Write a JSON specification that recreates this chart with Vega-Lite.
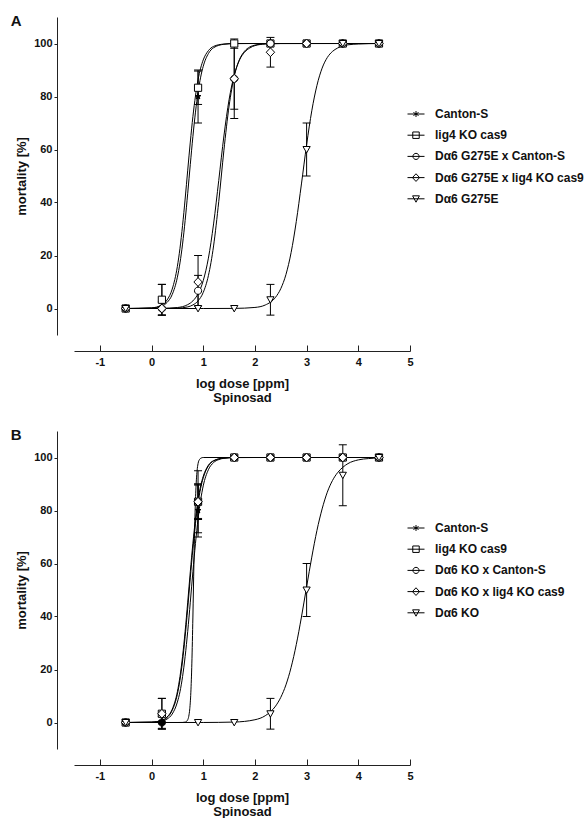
{
  "$schema": "https://vega.github.io/schema/vega-lite/v6.json",
  "background": "white",
  "padding": {"left": 10, "top": 14, "right": 5, "bottom": 5},
  "spacing": 24,
  "config": {
    "view": {"stroke": null},
    "font": "Liberation Sans",
    "axis": {"domainColor": "#222", "tickColor": "#222", "labelColor": "#111", "titleColor": "#111", "labelFont": "Liberation Sans", "titleFont": "Liberation Sans", "labelFontWeight": "bold", "labelFontSize": 11, "titleFontSize": 13, "titleFontWeight": "bold", "grid": false, "labelFlush": false, "labelOverlap": false},
    "title": {"font": "Liberation Sans", "fontSize": 15, "fontWeight": "bold", "color": "#111"}
  },
  "datasets": {
    "pts": [
      {"p":"A","s":"Canton-S","x":-0.5,"y":0,"lo":null,"hi":null},
      {"p":"A","s":"Canton-S","x":0.2,"y":3.3,"lo":-2.5,"hi":9.1},
      {"p":"A","s":"Canton-S","x":0.9,"y":80,"lo":70,"hi":90},
      {"p":"A","s":"Canton-S","x":1.6,"y":100,"lo":null,"hi":null},
      {"p":"A","s":"Canton-S","x":2.3,"y":100,"lo":null,"hi":null},
      {"p":"A","s":"Canton-S","x":3.0,"y":100,"lo":null,"hi":null},
      {"p":"A","s":"Canton-S","x":3.7,"y":100,"lo":null,"hi":null},
      {"p":"A","s":"Canton-S","x":4.4,"y":100,"lo":null,"hi":null},
      {"p":"A","s":"lig4 KO cas9","x":-0.5,"y":0,"lo":null,"hi":null},
      {"p":"A","s":"lig4 KO cas9","x":0.2,"y":3.3,"lo":-2.5,"hi":9.1},
      {"p":"A","s":"lig4 KO cas9","x":0.9,"y":83.3,"lo":77,"hi":89.6},
      {"p":"A","s":"lig4 KO cas9","x":1.6,"y":100,"lo":null,"hi":null},
      {"p":"A","s":"lig4 KO cas9","x":2.3,"y":100,"lo":null,"hi":null},
      {"p":"A","s":"lig4 KO cas9","x":3.0,"y":100,"lo":null,"hi":null},
      {"p":"A","s":"lig4 KO cas9","x":3.7,"y":100,"lo":null,"hi":null},
      {"p":"A","s":"lig4 KO cas9","x":4.4,"y":100,"lo":null,"hi":null},
      {"p":"A","s":"Dα6 G275E x Canton-S","x":-0.5,"y":0,"lo":null,"hi":null},
      {"p":"A","s":"Dα6 G275E x Canton-S","x":0.2,"y":0,"lo":-2.5,"hi":2.5},
      {"p":"A","s":"Dα6 G275E x Canton-S","x":0.9,"y":6.7,"lo":0.9,"hi":12.5},
      {"p":"A","s":"Dα6 G275E x Canton-S","x":1.6,"y":86.7,"lo":71.7,"hi":101.7},
      {"p":"A","s":"Dα6 G275E x Canton-S","x":2.3,"y":100,"lo":null,"hi":null},
      {"p":"A","s":"Dα6 G275E x Canton-S","x":3.0,"y":100,"lo":null,"hi":null},
      {"p":"A","s":"Dα6 G275E x Canton-S","x":3.7,"y":100,"lo":null,"hi":null},
      {"p":"A","s":"Dα6 G275E x Canton-S","x":4.4,"y":100,"lo":null,"hi":null},
      {"p":"A","s":"Dα6 G275E x lig4 KO cas9","x":-0.5,"y":0,"lo":null,"hi":null},
      {"p":"A","s":"Dα6 G275E x lig4 KO cas9","x":0.2,"y":0,"lo":null,"hi":null},
      {"p":"A","s":"Dα6 G275E x lig4 KO cas9","x":0.9,"y":10,"lo":0,"hi":20},
      {"p":"A","s":"Dα6 G275E x lig4 KO cas9","x":1.6,"y":86.7,"lo":75.2,"hi":98.2},
      {"p":"A","s":"Dα6 G275E x lig4 KO cas9","x":2.3,"y":96.7,"lo":91.1,"hi":102.3},
      {"p":"A","s":"Dα6 G275E x lig4 KO cas9","x":3.0,"y":100,"lo":null,"hi":null},
      {"p":"A","s":"Dα6 G275E x lig4 KO cas9","x":3.7,"y":100,"lo":null,"hi":null},
      {"p":"A","s":"Dα6 G275E x lig4 KO cas9","x":4.4,"y":100,"lo":null,"hi":null},
      {"p":"A","s":"Dα6 G275E","x":-0.5,"y":0,"lo":null,"hi":null},
      {"p":"A","s":"Dα6 G275E","x":0.9,"y":0,"lo":null,"hi":null},
      {"p":"A","s":"Dα6 G275E","x":1.6,"y":0,"lo":null,"hi":null},
      {"p":"A","s":"Dα6 G275E","x":2.3,"y":3.3,"lo":-2.5,"hi":9.1},
      {"p":"A","s":"Dα6 G275E","x":3.0,"y":60,"lo":50,"hi":70},
      {"p":"A","s":"Dα6 G275E","x":3.7,"y":100,"lo":null,"hi":null},
      {"p":"A","s":"Dα6 G275E","x":4.4,"y":100,"lo":null,"hi":null},
      {"p":"B","s":"Canton-S","x":-0.5,"y":0,"lo":null,"hi":null},
      {"p":"B","s":"Canton-S","x":0.2,"y":3.3,"lo":-2.5,"hi":9.1},
      {"p":"B","s":"Canton-S","x":0.9,"y":80,"lo":70,"hi":90},
      {"p":"B","s":"Canton-S","x":1.6,"y":100,"lo":null,"hi":null},
      {"p":"B","s":"Canton-S","x":2.3,"y":100,"lo":null,"hi":null},
      {"p":"B","s":"Canton-S","x":3.0,"y":100,"lo":null,"hi":null},
      {"p":"B","s":"Canton-S","x":3.7,"y":100,"lo":null,"hi":null},
      {"p":"B","s":"Canton-S","x":4.4,"y":100,"lo":null,"hi":null},
      {"p":"B","s":"lig4 KO cas9","x":-0.5,"y":0,"lo":null,"hi":null},
      {"p":"B","s":"lig4 KO cas9","x":0.2,"y":3.3,"lo":-2.5,"hi":9.1},
      {"p":"B","s":"lig4 KO cas9","x":0.9,"y":83.3,"lo":77,"hi":89.6},
      {"p":"B","s":"lig4 KO cas9","x":1.6,"y":100,"lo":null,"hi":null},
      {"p":"B","s":"lig4 KO cas9","x":2.3,"y":100,"lo":null,"hi":null},
      {"p":"B","s":"lig4 KO cas9","x":3.0,"y":100,"lo":null,"hi":null},
      {"p":"B","s":"lig4 KO cas9","x":3.7,"y":100,"lo":null,"hi":null},
      {"p":"B","s":"lig4 KO cas9","x":4.4,"y":100,"lo":null,"hi":null},
      {"p":"B","s":"Dα6 KO x Canton-S","x":-0.5,"y":0,"lo":null,"hi":null},
      {"p":"B","s":"Dα6 KO x Canton-S","x":0.2,"y":0,"lo":-2.2,"hi":2.2},
      {"p":"B","s":"Dα6 KO x Canton-S","x":0.9,"y":83.3,"lo":71.6,"hi":95},
      {"p":"B","s":"Dα6 KO x Canton-S","x":1.6,"y":100,"lo":null,"hi":null},
      {"p":"B","s":"Dα6 KO x Canton-S","x":2.3,"y":100,"lo":null,"hi":null},
      {"p":"B","s":"Dα6 KO x Canton-S","x":3.0,"y":100,"lo":null,"hi":null},
      {"p":"B","s":"Dα6 KO x Canton-S","x":3.7,"y":100,"lo":null,"hi":null},
      {"p":"B","s":"Dα6 KO x Canton-S","x":4.4,"y":100,"lo":null,"hi":null},
      {"p":"B","s":"Dα6 KO x lig4 KO cas9","x":-0.5,"y":0,"lo":null,"hi":null},
      {"p":"B","s":"Dα6 KO x lig4 KO cas9","x":0.2,"y":3.3,"lo":null,"hi":null},
      {"p":"B","s":"Dα6 KO x lig4 KO cas9","x":0.9,"y":83.3,"lo":76.6,"hi":90},
      {"p":"B","s":"Dα6 KO x lig4 KO cas9","x":1.6,"y":100,"lo":null,"hi":null},
      {"p":"B","s":"Dα6 KO x lig4 KO cas9","x":2.3,"y":100,"lo":null,"hi":null},
      {"p":"B","s":"Dα6 KO x lig4 KO cas9","x":3.0,"y":100,"lo":null,"hi":null},
      {"p":"B","s":"Dα6 KO x lig4 KO cas9","x":3.7,"y":100,"lo":null,"hi":null},
      {"p":"B","s":"Dα6 KO x lig4 KO cas9","x":4.4,"y":100,"lo":null,"hi":null},
      {"p":"B","s":"Dα6 KO","x":-0.5,"y":0,"lo":null,"hi":null},
      {"p":"B","s":"Dα6 KO","x":0.9,"y":0,"lo":null,"hi":null},
      {"p":"B","s":"Dα6 KO","x":1.6,"y":0,"lo":null,"hi":null},
      {"p":"B","s":"Dα6 KO","x":2.3,"y":3.3,"lo":-2.5,"hi":9.1},
      {"p":"B","s":"Dα6 KO","x":3.0,"y":50,"lo":40,"hi":60},
      {"p":"B","s":"Dα6 KO","x":3.7,"y":93.3,"lo":81.8,"hi":104.8},
      {"p":"B","s":"Dα6 KO","x":4.4,"y":100,"lo":null,"hi":null}
    ],
    "crv": [
      {"p":"A","s":"Canton-S","x":-0.5,"y":0},{"p":"A","s":"Canton-S","x":0,"y":0.17},{"p":"A","s":"Canton-S","x":0.2,"y":0.96},{"p":"A","s":"Canton-S","x":0.3,"y":2.27},{"p":"A","s":"Canton-S","x":0.4,"y":5.28},{"p":"A","s":"Canton-S","x":0.5,"y":11.8},{"p":"A","s":"Canton-S","x":0.55,"y":17.2},{"p":"A","s":"Canton-S","x":0.6,"y":24.3},{"p":"A","s":"Canton-S","x":0.65,"y":33.2},{"p":"A","s":"Canton-S","x":0.7,"y":43.5},{"p":"A","s":"Canton-S","x":0.75,"y":54.4},{"p":"A","s":"Canton-S","x":0.8,"y":64.9},{"p":"A","s":"Canton-S","x":0.85,"y":74.1},{"p":"A","s":"Canton-S","x":0.9,"y":81.6},{"p":"A","s":"Canton-S","x":0.95,"y":87.3},{"p":"A","s":"Canton-S","x":1.0,"y":91.4},{"p":"A","s":"Canton-S","x":1.1,"y":96.2},{"p":"A","s":"Canton-S","x":1.2,"y":98.4},{"p":"A","s":"Canton-S","x":1.4,"y":99.7},{"p":"A","s":"Canton-S","x":1.6,"y":99.95},{"p":"A","s":"Canton-S","x":2.0,"y":100},{"p":"A","s":"Canton-S","x":4.4,"y":100},
      {"p":"A","s":"lig4 KO cas9","x":-0.5,"y":0},{"p":"A","s":"lig4 KO cas9","x":0,"y":0.24},{"p":"A","s":"lig4 KO cas9","x":0.2,"y":1.36},{"p":"A","s":"lig4 KO cas9","x":0.3,"y":3.2},{"p":"A","s":"lig4 KO cas9","x":0.4,"y":7.33},{"p":"A","s":"lig4 KO cas9","x":0.5,"y":15.9},{"p":"A","s":"lig4 KO cas9","x":0.55,"y":22.7},{"p":"A","s":"lig4 KO cas9","x":0.6,"y":31.3},{"p":"A","s":"lig4 KO cas9","x":0.65,"y":41.3},{"p":"A","s":"lig4 KO cas9","x":0.7,"y":52.2},{"p":"A","s":"lig4 KO cas9","x":0.75,"y":62.8},{"p":"A","s":"lig4 KO cas9","x":0.8,"y":72.4},{"p":"A","s":"lig4 KO cas9","x":0.85,"y":80.2},{"p":"A","s":"lig4 KO cas9","x":0.9,"y":86.3},{"p":"A","s":"lig4 KO cas9","x":0.95,"y":90.7},{"p":"A","s":"lig4 KO cas9","x":1.0,"y":93.8},{"p":"A","s":"lig4 KO cas9","x":1.1,"y":97.3},{"p":"A","s":"lig4 KO cas9","x":1.2,"y":98.9},{"p":"A","s":"lig4 KO cas9","x":1.4,"y":99.8},{"p":"A","s":"lig4 KO cas9","x":1.6,"y":100},{"p":"A","s":"lig4 KO cas9","x":2.0,"y":100},{"p":"A","s":"lig4 KO cas9","x":4.4,"y":100},
      {"p":"A","s":"Dα6 G275E x Canton-S","x":-0.5,"y":0},{"p":"A","s":"Dα6 G275E x Canton-S","x":0.2,"y":0.01},{"p":"A","s":"Dα6 G275E x Canton-S","x":0.5,"y":0.13},{"p":"A","s":"Dα6 G275E x Canton-S","x":0.7,"y":0.61},{"p":"A","s":"Dα6 G275E x Canton-S","x":0.8,"y":1.33},{"p":"A","s":"Dα6 G275E x Canton-S","x":0.9,"y":2.87},{"p":"A","s":"Dα6 G275E x Canton-S","x":1.0,"y":6.06},{"p":"A","s":"Dα6 G275E x Canton-S","x":1.1,"y":12.4},{"p":"A","s":"Dα6 G275E x Canton-S","x":1.2,"y":23.6},{"p":"A","s":"Dα6 G275E x Canton-S","x":1.3,"y":40.3},{"p":"A","s":"Dα6 G275E x Canton-S","x":1.4,"y":59.7},{"p":"A","s":"Dα6 G275E x Canton-S","x":1.5,"y":76.4},{"p":"A","s":"Dα6 G275E x Canton-S","x":1.6,"y":87.6},{"p":"A","s":"Dα6 G275E x Canton-S","x":1.7,"y":93.9},{"p":"A","s":"Dα6 G275E x Canton-S","x":1.8,"y":97.1},{"p":"A","s":"Dα6 G275E x Canton-S","x":1.9,"y":98.7},{"p":"A","s":"Dα6 G275E x Canton-S","x":2.0,"y":99.4},{"p":"A","s":"Dα6 G275E x Canton-S","x":2.2,"y":99.9},{"p":"A","s":"Dα6 G275E x Canton-S","x":2.5,"y":100},{"p":"A","s":"Dα6 G275E x Canton-S","x":4.4,"y":100},
      {"p":"A","s":"Dα6 G275E x lig4 KO cas9","x":-0.5,"y":0},{"p":"A","s":"Dα6 G275E x lig4 KO cas9","x":0.2,"y":0.05},{"p":"A","s":"Dα6 G275E x lig4 KO cas9","x":0.5,"y":0.37},{"p":"A","s":"Dα6 G275E x lig4 KO cas9","x":0.7,"y":1.46},{"p":"A","s":"Dα6 G275E x lig4 KO cas9","x":0.8,"y":2.87},{"p":"A","s":"Dα6 G275E x lig4 KO cas9","x":0.9,"y":5.56},{"p":"A","s":"Dα6 G275E x lig4 KO cas9","x":1.0,"y":10.5},{"p":"A","s":"Dα6 G275E x lig4 KO cas9","x":1.1,"y":19.0},{"p":"A","s":"Dα6 G275E x lig4 KO cas9","x":1.2,"y":31.9},{"p":"A","s":"Dα6 G275E x lig4 KO cas9","x":1.3,"y":48.3},{"p":"A","s":"Dα6 G275E x lig4 KO cas9","x":1.4,"y":65.1},{"p":"A","s":"Dα6 G275E x lig4 KO cas9","x":1.5,"y":78.8},{"p":"A","s":"Dα6 G275E x lig4 KO cas9","x":1.6,"y":88.1},{"p":"A","s":"Dα6 G275E x lig4 KO cas9","x":1.7,"y":93.7},{"p":"A","s":"Dα6 G275E x lig4 KO cas9","x":1.8,"y":96.7},{"p":"A","s":"Dα6 G275E x lig4 KO cas9","x":1.9,"y":98.3},{"p":"A","s":"Dα6 G275E x lig4 KO cas9","x":2.0,"y":99.2},{"p":"A","s":"Dα6 G275E x lig4 KO cas9","x":2.2,"y":99.8},{"p":"A","s":"Dα6 G275E x lig4 KO cas9","x":2.5,"y":99.97},{"p":"A","s":"Dα6 G275E x lig4 KO cas9","x":4.4,"y":100},
      {"p":"A","s":"Dα6 G275E","x":-0.5,"y":0},{"p":"A","s":"Dα6 G275E","x":1.0,"y":0},{"p":"A","s":"Dα6 G275E","x":1.6,"y":0.04},{"p":"A","s":"Dα6 G275E","x":2.0,"y":0.4},{"p":"A","s":"Dα6 G275E","x":2.2,"y":1.32},{"p":"A","s":"Dα6 G275E","x":2.4,"y":4.26},{"p":"A","s":"Dα6 G275E","x":2.5,"y":7.48},{"p":"A","s":"Dα6 G275E","x":2.6,"y":12.8},{"p":"A","s":"Dα6 G275E","x":2.7,"y":21.1},{"p":"A","s":"Dα6 G275E","x":2.8,"y":32.8},{"p":"A","s":"Dα6 G275E","x":2.9,"y":47.0},{"p":"A","s":"Dα6 G275E","x":3.0,"y":61.8},{"p":"A","s":"Dα6 G275E","x":3.1,"y":74.6},{"p":"A","s":"Dα6 G275E","x":3.2,"y":84.2},{"p":"A","s":"Dα6 G275E","x":3.3,"y":90.7},{"p":"A","s":"Dα6 G275E","x":3.4,"y":94.7},{"p":"A","s":"Dα6 G275E","x":3.5,"y":97.0},{"p":"A","s":"Dα6 G275E","x":3.6,"y":98.3},{"p":"A","s":"Dα6 G275E","x":3.8,"y":99.5},{"p":"A","s":"Dα6 G275E","x":4.0,"y":99.8},{"p":"A","s":"Dα6 G275E","x":4.4,"y":100},
      {"p":"B","s":"Canton-S","x":-0.5,"y":0},{"p":"B","s":"Canton-S","x":0,"y":0.08},{"p":"B","s":"Canton-S","x":0.2,"y":0.52},{"p":"B","s":"Canton-S","x":0.3,"y":1.3},{"p":"B","s":"Canton-S","x":0.4,"y":3.2},{"p":"B","s":"Canton-S","x":0.5,"y":7.7},{"p":"B","s":"Canton-S","x":0.55,"y":11.6},{"p":"B","s":"Canton-S","x":0.6,"y":17.3},{"p":"B","s":"Canton-S","x":0.65,"y":24.9},{"p":"B","s":"Canton-S","x":0.7,"y":34.4},{"p":"B","s":"Canton-S","x":0.75,"y":45.4},{"p":"B","s":"Canton-S","x":0.8,"y":56.9},{"p":"B","s":"Canton-S","x":0.85,"y":67.6},{"p":"B","s":"Canton-S","x":0.9,"y":76.8},{"p":"B","s":"Canton-S","x":0.95,"y":84.0},{"p":"B","s":"Canton-S","x":1.0,"y":89.3},{"p":"B","s":"Canton-S","x":1.1,"y":95.4},{"p":"B","s":"Canton-S","x":1.2,"y":98.1},{"p":"B","s":"Canton-S","x":1.3,"y":99.2},{"p":"B","s":"Canton-S","x":1.4,"y":99.7},{"p":"B","s":"Canton-S","x":1.6,"y":99.96},{"p":"B","s":"Canton-S","x":2.0,"y":100},{"p":"B","s":"Canton-S","x":4.4,"y":100},
      {"p":"B","s":"lig4 KO cas9","x":-0.5,"y":0},{"p":"B","s":"lig4 KO cas9","x":0,"y":0.13},{"p":"B","s":"lig4 KO cas9","x":0.2,"y":0.83},{"p":"B","s":"lig4 KO cas9","x":0.3,"y":2.05},{"p":"B","s":"lig4 KO cas9","x":0.4,"y":4.99},{"p":"B","s":"lig4 KO cas9","x":0.5,"y":11.6},{"p":"B","s":"lig4 KO cas9","x":0.55,"y":17.3},{"p":"B","s":"lig4 KO cas9","x":0.6,"y":24.9},{"p":"B","s":"lig4 KO cas9","x":0.65,"y":34.4},{"p":"B","s":"lig4 KO cas9","x":0.7,"y":45.4},{"p":"B","s":"lig4 KO cas9","x":0.75,"y":56.9},{"p":"B","s":"lig4 KO cas9","x":0.8,"y":67.6},{"p":"B","s":"lig4 KO cas9","x":0.85,"y":76.8},{"p":"B","s":"lig4 KO cas9","x":0.9,"y":84.0},{"p":"B","s":"lig4 KO cas9","x":0.95,"y":89.3},{"p":"B","s":"lig4 KO cas9","x":1.0,"y":92.9},{"p":"B","s":"lig4 KO cas9","x":1.1,"y":97.1},{"p":"B","s":"lig4 KO cas9","x":1.2,"y":98.8},{"p":"B","s":"lig4 KO cas9","x":1.4,"y":99.8},{"p":"B","s":"lig4 KO cas9","x":1.6,"y":100},{"p":"B","s":"lig4 KO cas9","x":2.0,"y":100},{"p":"B","s":"lig4 KO cas9","x":4.4,"y":100},
      {"p":"B","s":"Dα6 KO x Canton-S","x":-0.5,"y":0},{"p":"B","s":"Dα6 KO x Canton-S","x":0.2,"y":0},{"p":"B","s":"Dα6 KO x Canton-S","x":0.5,"y":0},{"p":"B","s":"Dα6 KO x Canton-S","x":0.6,"y":0.02},{"p":"B","s":"Dα6 KO x Canton-S","x":0.65,"y":0.13},{"p":"B","s":"Dα6 KO x Canton-S","x":0.7,"y":1.04},{"p":"B","s":"Dα6 KO x Canton-S","x":0.72,"y":2.34},{"p":"B","s":"Dα6 KO x Canton-S","x":0.74,"y":5.2},{"p":"B","s":"Dα6 KO x Canton-S","x":0.76,"y":11.2},{"p":"B","s":"Dα6 KO x Canton-S","x":0.78,"y":22.4},{"p":"B","s":"Dα6 KO x Canton-S","x":0.8,"y":39.8},{"p":"B","s":"Dα6 KO x Canton-S","x":0.82,"y":60.2},{"p":"B","s":"Dα6 KO x Canton-S","x":0.84,"y":77.6},{"p":"B","s":"Dα6 KO x Canton-S","x":0.86,"y":88.8},{"p":"B","s":"Dα6 KO x Canton-S","x":0.88,"y":94.8},{"p":"B","s":"Dα6 KO x Canton-S","x":0.9,"y":97.7},{"p":"B","s":"Dα6 KO x Canton-S","x":0.93,"y":99.3},{"p":"B","s":"Dα6 KO x Canton-S","x":0.96,"y":99.8},{"p":"B","s":"Dα6 KO x Canton-S","x":1.0,"y":100},{"p":"B","s":"Dα6 KO x Canton-S","x":1.6,"y":100},{"p":"B","s":"Dα6 KO x Canton-S","x":4.4,"y":100},
      {"p":"B","s":"Dα6 KO x lig4 KO cas9","x":-0.5,"y":0},{"p":"B","s":"Dα6 KO x lig4 KO cas9","x":0,"y":0.12},{"p":"B","s":"Dα6 KO x lig4 KO cas9","x":0.2,"y":0.75},{"p":"B","s":"Dα6 KO x lig4 KO cas9","x":0.3,"y":1.87},{"p":"B","s":"Dα6 KO x lig4 KO cas9","x":0.4,"y":4.57},{"p":"B","s":"Dα6 KO x lig4 KO cas9","x":0.5,"y":10.7},{"p":"B","s":"Dα6 KO x lig4 KO cas9","x":0.55,"y":16.0},{"p":"B","s":"Dα6 KO x lig4 KO cas9","x":0.6,"y":23.2},{"p":"B","s":"Dα6 KO x lig4 KO cas9","x":0.65,"y":32.4},{"p":"B","s":"Dα6 KO x lig4 KO cas9","x":0.7,"y":43.1},{"p":"B","s":"Dα6 KO x lig4 KO cas9","x":0.75,"y":54.6},{"p":"B","s":"Dα6 KO x lig4 KO cas9","x":0.8,"y":65.6},{"p":"B","s":"Dα6 KO x lig4 KO cas9","x":0.85,"y":75.1},{"p":"B","s":"Dα6 KO x lig4 KO cas9","x":0.9,"y":82.7},{"p":"B","s":"Dα6 KO x lig4 KO cas9","x":0.95,"y":88.4},{"p":"B","s":"Dα6 KO x lig4 KO cas9","x":1.0,"y":92.3},{"p":"B","s":"Dα6 KO x lig4 KO cas9","x":1.1,"y":96.8},{"p":"B","s":"Dα6 KO x lig4 KO cas9","x":1.2,"y":98.7},{"p":"B","s":"Dα6 KO x lig4 KO cas9","x":1.4,"y":99.8},{"p":"B","s":"Dα6 KO x lig4 KO cas9","x":1.6,"y":100},{"p":"B","s":"Dα6 KO x lig4 KO cas9","x":2.0,"y":100},{"p":"B","s":"Dα6 KO x lig4 KO cas9","x":4.4,"y":100},
      {"p":"B","s":"Dα6 KO","x":-0.5,"y":0},{"p":"B","s":"Dα6 KO","x":1.0,"y":0.01},{"p":"B","s":"Dα6 KO","x":1.6,"y":0.17},{"p":"B","s":"Dα6 KO","x":2.0,"y":1.04},{"p":"B","s":"Dα6 KO","x":2.2,"y":2.56},{"p":"B","s":"Dα6 KO","x":2.4,"y":6.2},{"p":"B","s":"Dα6 KO","x":2.5,"y":9.48},{"p":"B","s":"Dα6 KO","x":2.6,"y":14.2},{"p":"B","s":"Dα6 KO","x":2.7,"y":20.8},{"p":"B","s":"Dα6 KO","x":2.8,"y":29.4},{"p":"B","s":"Dα6 KO","x":2.9,"y":39.8},{"p":"B","s":"Dα6 KO","x":3.0,"y":51.2},{"p":"B","s":"Dα6 KO","x":3.1,"y":62.4},{"p":"B","s":"Dα6 KO","x":3.2,"y":72.5},{"p":"B","s":"Dα6 KO","x":3.3,"y":80.6},{"p":"B","s":"Dα6 KO","x":3.4,"y":86.9},{"p":"B","s":"Dα6 KO","x":3.5,"y":91.3},{"p":"B","s":"Dα6 KO","x":3.6,"y":94.3},{"p":"B","s":"Dα6 KO","x":3.7,"y":96.3},{"p":"B","s":"Dα6 KO","x":3.8,"y":97.7},{"p":"B","s":"Dα6 KO","x":4.0,"y":99.1},{"p":"B","s":"Dα6 KO","x":4.2,"y":99.6},{"p":"B","s":"Dα6 KO","x":4.4,"y":99.8}
    ]
  },
  "vconcat": [
    {
      "width": 336, "height": 318,
      "title": {"text": "A", "anchor": "start", "frame": "bounds", "baseline": "top", "offset": 0, "dy": 12, "dx": -5},
      "layer": [
        {"data": {"name": "crv"}, "transform": [{"filter": "datum.p === 'A'"}],
         "mark": {"type": "line", "interpolate": "monotone", "color": "black", "strokeWidth": 1},
         "encoding": {
           "x": {"field": "x", "type": "quantitative", "scale": {"domain": [-1.5, 5], "nice": false, "zero": false},
                 "axis": {"title": ["log dose [ppm]", "Spinosad"], "values": [-1,-0.5,0,0.5,1,1.5,2,2.5,3,3.5,4,4.5,5], "offset": 16, "tickSize": -6, "tickDash": {"condition": {"test": "datum.value % 1 !== 0", "value": [3, 20]}, "value": []}, "labelExpr": "datum.value % 1 === 0 ? (datum.value < 0 ? '-' + abs(datum.value) : '' + datum.value) : ''", "labelPadding": 11, "titlePadding": 10, "titleLineHeight": 14}},
           "y": {"field": "y", "type": "quantitative", "scale": {"domain": [-10, 110], "nice": false, "zero": false},
                 "axis": {"title": "mortality [%]", "values": [0,20,40,60,80,100], "offset": 17, "tickSize": 3, "labelPadding": 2, "titlePadding": 5}},
           "detail": {"field": "s"}
         }},
        {"data": {"name": "pts"}, "transform": [{"filter": "datum.p === 'A' && datum.lo != null"}],
         "mark": {"type": "rule", "color": "black", "strokeWidth": 1},
         "encoding": {"x": {"field": "x", "type": "quantitative"}, "y": {"field": "lo", "type": "quantitative"}, "y2": {"field": "hi"}}},
        {"data": {"name": "pts"}, "transform": [{"filter": "datum.p === 'A' && datum.lo != null"}],
         "mark": {"type": "tick", "orient": "horizontal", "size": 8, "thickness": 1, "color": "black", "opacity": 1},
         "encoding": {"x": {"field": "x", "type": "quantitative"}, "y": {"field": "lo", "type": "quantitative"}}},
        {"data": {"name": "pts"}, "transform": [{"filter": "datum.p === 'A' && datum.lo != null"}],
         "mark": {"type": "tick", "orient": "horizontal", "size": 8, "thickness": 1, "color": "black", "opacity": 1},
         "encoding": {"x": {"field": "x", "type": "quantitative"}, "y": {"field": "hi", "type": "quantitative"}}},
        {"data": {"name": "pts"}, "transform": [{"filter": "datum.p === 'A'"}],
         "mark": {"type": "point", "filled": true, "stroke": "black", "strokeWidth": 1, "opacity": 1, "size": 64},
         "encoding": {
           "x": {"field": "x", "type": "quantitative"}, "y": {"field": "y", "type": "quantitative"},
           "shape": {"field": "s", "type": "nominal", "legend": null, "scale": {"domain": ["Canton-S", "lig4 KO cas9", "Dα6 G275E x Canton-S", "Dα6 G275E x lig4 KO cas9", "Dα6 G275E"], "range": ["M0,-0.75L0.176,-0.243L0.713,-0.232L0.285,0.093L0.441,0.607L0,0.3L-0.441,0.607L-0.285,0.093L-0.713,-0.232L-0.176,-0.243Z", "M-0.9,-0.9H0.9V0.9H-0.9Z", "M-0.9,0A0.9,0.9,0,1,1,0.9,0A0.9,0.9,0,1,1,-0.9,0Z", "M0,-1.1L1.05,0L0,1.1L-1.05,0Z", "M-0.9,-0.75H0.9L0,0.85Z"]}},
           "fill": {"field": "s", "type": "nominal", "legend": null, "scale": {"domain": ["Canton-S", "lig4 KO cas9", "Dα6 G275E x Canton-S", "Dα6 G275E x lig4 KO cas9", "Dα6 G275E"], "range": ["black", "white", "white", "white", "white"]}}
         }},
        {"data": {"name": "pts"}, "transform": [{"filter": "datum.p === 'A' && datum.x > 100"}],
         "mark": {"type": "point", "filled": false, "stroke": "black"},
         "encoding": {
           "x": {"field": "x", "type": "quantitative"}, "y": {"field": "y", "type": "quantitative"},
           "shape": {"field": "s", "type": "nominal",
             "scale": {"domain": ["Canton-S", "lig4 KO cas9", "Dα6 G275E x Canton-S", "Dα6 G275E x lig4 KO cas9", "Dα6 G275E"], "range": ["M-1,0H1M0,-0.35V0.35M-0.3,-0.18L0.3,0.18M-0.3,0.18L0.3,-0.18", "M-1,0H1M-0.38,-0.38H0.38V0.38H-0.38Z", "M-1,0H1M-0.36,0A0.36,0.36,0,1,1,0.36,0A0.36,0.36,0,1,1,-0.36,0Z", "M-1,0H1M0,-0.45L0.42,0L0,0.45L-0.42,0Z", "M-1,0H1M-0.4,-0.35H0.4L0,0.4Z"]},
             "legend": {"title": null, "orient": "none", "legendX": 333, "legendY": 88, "symbolSize": 289, "symbolStrokeWidth": 1, "symbolStrokeColor": "black", "symbolFillColor": "white", "symbolOpacity": 1, "labelFont": "Liberation Sans", "labelFontSize": 12, "labelFontWeight": "bold", "labelColor": "#111", "labelOffset": 10, "rowPadding": 6.2, "labelLimit": 300}}
         }}
      ],
      "resolve": {"scale": {"shape": "independent"}}
    },
    {
      "width": 336, "height": 318,
      "title": {"text": "B", "anchor": "start", "frame": "bounds", "baseline": "top", "offset": 0, "dy": 12, "dx": -5},
      "layer": [
        {"data": {"name": "crv"}, "transform": [{"filter": "datum.p === 'B'"}],
         "mark": {"type": "line", "interpolate": "monotone", "color": "black", "strokeWidth": 1},
         "encoding": {
           "x": {"field": "x", "type": "quantitative", "scale": {"domain": [-1.5, 5], "nice": false, "zero": false},
                 "axis": {"title": ["log dose [ppm]", "Spinosad"], "values": [-1,-0.5,0,0.5,1,1.5,2,2.5,3,3.5,4,4.5,5], "offset": 16, "tickSize": -6, "tickDash": {"condition": {"test": "datum.value % 1 !== 0", "value": [3, 20]}, "value": []}, "labelExpr": "datum.value % 1 === 0 ? (datum.value < 0 ? '-' + abs(datum.value) : '' + datum.value) : ''", "labelPadding": 11, "titlePadding": 10, "titleLineHeight": 14}},
           "y": {"field": "y", "type": "quantitative", "scale": {"domain": [-10, 110], "nice": false, "zero": false},
                 "axis": {"title": "mortality [%]", "values": [0,20,40,60,80,100], "offset": 17, "tickSize": 3, "labelPadding": 2, "titlePadding": 5}},
           "detail": {"field": "s"}
         }},
        {"data": {"name": "pts"}, "transform": [{"filter": "datum.p === 'B' && datum.lo != null"}],
         "mark": {"type": "rule", "color": "black", "strokeWidth": 1},
         "encoding": {"x": {"field": "x", "type": "quantitative"}, "y": {"field": "lo", "type": "quantitative"}, "y2": {"field": "hi"}}},
        {"data": {"name": "pts"}, "transform": [{"filter": "datum.p === 'B' && datum.lo != null"}],
         "mark": {"type": "tick", "orient": "horizontal", "size": 8, "thickness": 1, "color": "black", "opacity": 1},
         "encoding": {"x": {"field": "x", "type": "quantitative"}, "y": {"field": "lo", "type": "quantitative"}}},
        {"data": {"name": "pts"}, "transform": [{"filter": "datum.p === 'B' && datum.lo != null"}],
         "mark": {"type": "tick", "orient": "horizontal", "size": 8, "thickness": 1, "color": "black", "opacity": 1},
         "encoding": {"x": {"field": "x", "type": "quantitative"}, "y": {"field": "hi", "type": "quantitative"}}},
        {"data": {"name": "pts"}, "transform": [{"filter": "datum.p === 'B'"}],
         "mark": {"type": "point", "filled": true, "stroke": "black", "strokeWidth": 1, "opacity": 1, "size": 64},
         "encoding": {
           "x": {"field": "x", "type": "quantitative"}, "y": {"field": "y", "type": "quantitative"},
           "shape": {"field": "s", "type": "nominal", "legend": null, "scale": {"domain": ["Canton-S", "lig4 KO cas9", "Dα6 KO x Canton-S", "Dα6 KO x lig4 KO cas9", "Dα6 KO"], "range": ["M0,-0.75L0.176,-0.243L0.713,-0.232L0.285,0.093L0.441,0.607L0,0.3L-0.441,0.607L-0.285,0.093L-0.713,-0.232L-0.176,-0.243Z", "M-0.9,-0.9H0.9V0.9H-0.9Z", "M-0.9,0A0.9,0.9,0,1,1,0.9,0A0.9,0.9,0,1,1,-0.9,0Z", "M0,-1.1L1.05,0L0,1.1L-1.05,0Z", "M-0.9,-0.75H0.9L0,0.85Z"]}},
           "fill": {"field": "s", "type": "nominal", "legend": null, "scale": {"domain": ["Canton-S", "lig4 KO cas9", "Dα6 KO x Canton-S", "Dα6 KO x lig4 KO cas9", "Dα6 KO"], "range": ["black", "white", "white", "white", "white"]}}
         }},
        {"data": {"name": "pts"}, "transform": [{"filter": "datum.p === 'B' && datum.x > 100"}],
         "mark": {"type": "point", "filled": false, "stroke": "black"},
         "encoding": {
           "x": {"field": "x", "type": "quantitative"}, "y": {"field": "y", "type": "quantitative"},
           "shape": {"field": "s", "type": "nominal",
             "scale": {"domain": ["Canton-S", "lig4 KO cas9", "Dα6 KO x Canton-S", "Dα6 KO x lig4 KO cas9", "Dα6 KO"], "range": ["M-1,0H1M0,-0.35V0.35M-0.3,-0.18L0.3,0.18M-0.3,0.18L0.3,-0.18", "M-1,0H1M-0.38,-0.38H0.38V0.38H-0.38Z", "M-1,0H1M-0.36,0A0.36,0.36,0,1,1,0.36,0A0.36,0.36,0,1,1,-0.36,0Z", "M-1,0H1M0,-0.45L0.42,0L0,0.45L-0.42,0Z", "M-1,0H1M-0.4,-0.35H0.4L0,0.4Z"]},
             "legend": {"title": null, "orient": "none", "legendX": 333, "legendY": 88, "symbolSize": 289, "symbolStrokeWidth": 1, "symbolStrokeColor": "black", "symbolFillColor": "white", "symbolOpacity": 1, "labelFont": "Liberation Sans", "labelFontSize": 12, "labelFontWeight": "bold", "labelColor": "#111", "labelOffset": 10, "rowPadding": 6.2, "labelLimit": 300}}
         }}
      ],
      "resolve": {"scale": {"shape": "independent"}}
    }
  ]
}
